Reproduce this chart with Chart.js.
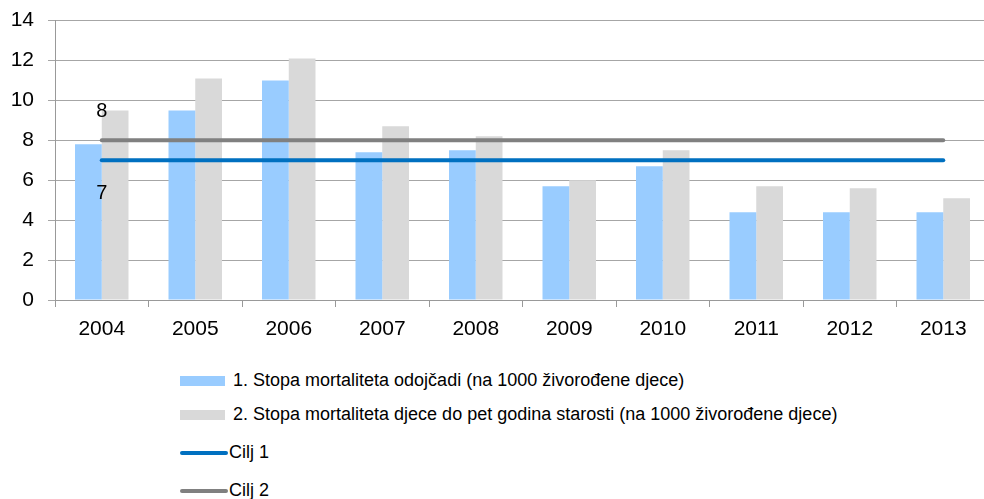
<!DOCTYPE html>
<html><head><meta charset="utf-8">
<script src="https://cdn.jsdelivr.net/npm/chart.js@4/dist/chart.umd.min.js"></script>
<style>
html,body{margin:0;padding:0;background:#fff;overflow:hidden;width:984px;height:499px;}
#wrap{position:absolute;left:0;top:-6px;width:990px;height:351px;}
.leg{position:absolute;left:180px;font-family:"Liberation Sans",Arial,sans-serif;font-size:18px;color:#000;white-space:nowrap;line-height:20px;}
.leg .sw{display:inline-block;vertical-align:middle;margin-right:8px;}
</style></head>
<body>
<div id="wrap"><canvas id="c" width="990" height="351"></canvas></div>
<div id="legend"></div>
<script>
const categories = ["2004","2005","2006","2007","2008","2009","2010","2011","2012","2013"];
const infantRate = [7.8, 9.5, 11.0, 7.4, 7.5, 5.7, 6.7, 4.4, 4.4, 4.4];
const underFiveRate = [9.5, 11.1, 12.1, 8.7, 8.2, 6.0, 7.5, 5.7, 5.6, 5.1];
const goal1 = [7, 7, 7, 7, 7, 7, 7, 7, 7, 7];
const goal2 = [8, 8, 8, 8, 8, 8, 8, 8, 8, 8];
const seriesNames = ["1. Stopa mortaliteta odojčadi (na 1000 živorođene djece)",
  "2. Stopa mortaliteta djece do pet godina starosti (na 1000 živorođene djece)",
  "Cilj 1", "Cilj 2"];
const yTicks = [0, 2, 4, 6, 8, 10, 12, 14];

const colBlue = "#99CCFF", colGrey = "#D9D9D9", colLine1 = "#0070C0", colLine2 = "#808080";

const labelPlugin = {
  id: "firstLabels",
  afterDatasetsDraw(chart) {
    const ctx = chart.ctx;
    const x = chart.scales.x, y = chart.scales.y;
    ctx.save();
    ctx.font = "20px 'Liberation Sans', Arial, sans-serif";
    ctx.fillStyle = "#000";
    ctx.textAlign = "center";
    ctx.textBaseline = "middle";
    const px = x.getPixelForValue(0);
    ctx.fillText(String(goal2[0]), px, y.getPixelForValue(goal2[0]) - 29);
    ctx.fillText(String(goal1[0]), px, y.getPixelForValue(goal1[0]) + 33);
    ctx.restore();
  }
};

new Chart(document.getElementById("c"), {
  data: {
    labels: categories,
    datasets: [
      {type:"line", label: seriesNames[2], data: goal1, borderColor: colLine1, borderWidth: 4, pointRadius: 0, borderCapStyle: "round", order: 0},
      {type:"line", label: seriesNames[3], data: goal2, borderColor: colLine2, borderWidth: 4, pointRadius: 0, borderCapStyle: "round", order: 0},
      {type:"bar", label: seriesNames[0], data: infantRate, backgroundColor: colBlue, order: 1, barPercentage: 1, categoryPercentage: 0.572},
      {type:"bar", label: seriesNames[1], data: underFiveRate, backgroundColor: colGrey, order: 1, barPercentage: 1, categoryPercentage: 0.572}
    ]
  },
  options: {
    responsive: false,
    animation: false,
    layout: {padding: {top: 14, right: 0, left: 0, bottom: 0}},
    plugins: {legend: {display: false}, tooltip: {enabled: false}},
    scales: {
      x: {
        offset: true,
        grid: {display: true, drawOnChartArea: false, offset: true, color: "#999", tickLength: 7},
        border: {display: true, color: "#999"},
        ticks: {color: "#000", font: {family: "'Liberation Sans', Arial, sans-serif", size: 21}, padding: 10, maxRotation: 0},
        afterFit(s) { s.height = 45; }
      },
      y: {
        min: 0, max: 14,
        afterBuildTicks(s) { s.ticks = yTicks.map(v => ({value: v})); },
        grid: {color: "#a6a6a6", tickLength: 7},
        border: {display: true, color: "#999"},
        ticks: {color: "#000", font: {family: "'Liberation Sans', Arial, sans-serif", size: 21}, padding: 14},
        afterFit(s) { s.width = 55; }
      }
    }
  },
  plugins: [labelPlugin]
});

const legendItems = [
  {name: seriesNames[0], kind: "box", color: colBlue, y: 380},
  {name: seriesNames[1], kind: "box", color: colGrey, y: 414},
  {name: seriesNames[2], kind: "line", color: colLine1, y: 452},
  {name: seriesNames[3], kind: "line", color: colLine2, y: 490}
];
const lg = document.getElementById("legend");
legendItems.forEach(it => {
  const d = document.createElement("div");
  d.className = "leg";
  d.style.top = (it.y - 10) + "px";
  const sw = document.createElement("span");
  sw.className = "sw";
  if (it.kind === "box") { sw.style.width = "45px"; sw.style.height = "10px"; sw.style.background = it.color; }
  else { sw.style.width = "48px"; sw.style.height = "4px"; sw.style.borderRadius = "2px"; sw.style.background = it.color; sw.style.marginRight = "1px"; }
  d.appendChild(sw);
  d.appendChild(document.createTextNode(it.name));
  lg.appendChild(d);
});
</script>
</body></html>
